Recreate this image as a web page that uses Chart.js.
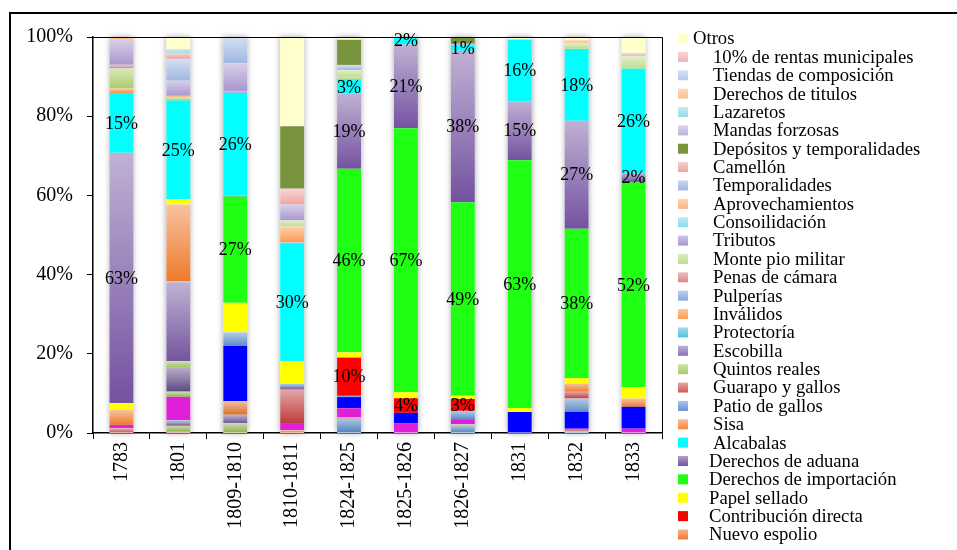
<!DOCTYPE html>
<html lang="es">
<head>
<meta charset="utf-8">
<title>Composición de los ingresos fiscales</title>
<script src="https://cdn.jsdelivr.net/npm/chart.js@4.4.1/dist/chart.umd.min.js"></script>
<style>
  html, body { margin: 0; padding: 0; background: #fff; }
  canvas { display: block; }
</style>
</head>
<body>
<canvas id="chart" width="957" height="550"></canvas>
<script>
// Periods on the horizontal axis
const periods = ['1783', '1801', '1809-1810', '1810-1811', '1824-1825', '1825-1826', '1826-1827', '1831', '1832', '1833'];

// Share of each revenue item per period (%), bottom of the stack first
const rubro1  = [0,    0,    0,    0,    3.6,  0,    1.9,  0,    0.4,  0];
const rubro2  = [1.2,  0.3,  0,    0,    0.3,  0,    0,    0,    0.4,  0];
const rubro3  = [0,    1.5,  2.5,  0,    0,    0,    0.3,  0,    0,    0];
const rubro4  = [0,    1.0,  2.1,  0,    0,    0,    0,    0,    0,    0];
const rubro5  = [0,    0.4,  0,    0,    0,    0,    0,    0,    0,    0];
const rubro6  = [0,    0,    3.4,  0.7,  0,    0,    0,    0,    0,    0];
const rubro8  = [0.85, 5.9,  0,    1.8,  2.3,  2.4,  1.3,  0,    0.3,  1.1];
const rubro9  = [0,    1.3,  0,    0,    0,    0,    0,    0,    0,    0];
const rubro10 = [0,    6.0,  0,    0,    0,    0,    0,    0,    0,    0];
const rubro12 = [0,    0,    13.9, 0,    2.8,  2.7,  0,    5.3,  4.2,  5.5];
const rubro13 = [0,    0,    3.5,  0,    0.3,  0,    2.1,  0,    3.4,  0];
const rubro14 = [0,    0,    0,    8.4,  0,    0,    0,    0,    1.7,  0];
const rubro15 = [0,    1.7,  0,    0,    0,    0,    0,    0,    0,    0];
const rubro16 = [0,    19.8, 0,    1.2,  0,    0,    0,    0,    0,    0];
const rubro17 = [0,    0.3,  0,    0.3,  0,    0,    0,    0,    0,    0];

const nuevoEspolio        = [3.8,  19.3, 0,    0,    0,    0,    0,    0,    2.1,  2.1];
const contribucionDirecta = [0,    0,    0,    0,    9.6,  3.7,  3.0,  0,    0,    0];
const papelSellado        = [1.7,  1.3,  7.4,  5.7,  1.3,  1.5,  0.8,  1.0,  1.3,  2.8];
const derechosImportacion = [0,    0,    26.8, 0,    46.0, 66.8, 48.9, 62.6, 37.7, 51.7];
const derechosAduana      = [63.1, 0,    0.3,  0,    18.8, 21.2, 38.2, 14.9, 27.3, 2.3];
const alcabalas           = [14.9, 24.8, 25.8, 29.5, 3.4,  1.9,  1.3,  15.6, 18.1, 26.3];
const sisa                = [1.3,  0,    0,    0,    0,    0,    0,    0,    0,    0];
const patioGallos         = [0,    0,    0,    0.3,  0,    0,    0,    0,    0,    0];
const guarapoGallos       = [0,    0,    0,    0,    0,    0,    0,    0,    0,    0];
const quintosReales       = [5.1,  0.8,  0,    0,    0.8,  0,    0,    0,    0,    0];
const escobilla           = [0.4,  0,    0,    0,    0,    0,    0,    0,    0,    0];
const protectoria         = [0,    0,    0,    0,    0,    0,    0,    0,    0,    0];
const invalidos           = [0,    0.4,  0,    4.0,  0,    0,    0,    0,    0,    0];
const pulperias           = [0,    0,    0.5,  0,    0,    0,    0.5,  0,    0,    0];
const penasCamara         = [0.5,  0,    0,    0,    0,    0,    0,    0,    0,    0];
const montePio            = [0,    0,    0,    1.5,  1.7,  0,    0,    0,    1.5,  3.2];
const tributos            = [6.5,  3.8,  7.0,  4.0,  0,    0,    0,    0,    0,    0];
const consolidacion       = [0,    0,    0,    0,    0,    0,    0,    0,    0,    0];
const aprovechamientos    = [0.5,  0,    0,    0,    0,    0,    0,    0,    0,    0];
const temporalidades      = [0,    5.5,  6.6,  0,    1.3,  0,    0,    0,    0,    0];
const camellon            = [0,    1.5,  0,    4.0,  0,    0,    0,    0,    0,    0];
const depositos           = [0,    0,    0,    15.7, 6.3,  0,    1.7,  0,    0,    0];
const mandasForzosas      = [0,    0,    0,    0,    0,    0,    0,    0,    0,    0];
const lazaretos           = [0,    1.0,  0,    0,    0,    0,    0,    0,    0,    0];
const derechosTitulos     = [0,    0,    0,    0,    0,    0,    0,    0,    0.8,  0];
const tiendasComposicion  = [0,    0,    0,    0,    0,    0,    0,    0,    0,    0];
const rentasMunicipales   = [0,    0,    0,    0,    0,    0,    0,    0,    0,    0.8];
const otros               = [0,    3.0,  0,    22.4, 0.7,  0,    0,    0.6,  0.7,  4.0];

// Stack order (bottom to top) with fill colours; "flat" = solid fill, "tagged" = value printed on the bar
const stack = [
  { label: 'Rubro 1',  values: rubro1,  color: '#4F81BD' },
  { label: 'Rubro 2',  values: rubro2,  color: '#C0504D' },
  { label: 'Rubro 3',  values: rubro3,  color: '#8DB04E' },
  { label: 'Rubro 4',  values: rubro4,  color: '#6F5896' },
  { label: 'Rubro 5',  values: rubro5,  color: '#4BACC6' },
  { label: 'Rubro 6',  values: rubro6,  color: '#D9702C' },
  { label: 'Rubro 8',  values: rubro8,  color: '#E11FD9', flat: true },
  { label: 'Rubro 9',  values: rubro9,  color: '#92B650' },
  { label: 'Rubro 10', values: rubro10, color: '#5E4882' },
  { label: 'Rubro 12', values: rubro12, color: '#0000FF', flat: true },
  { label: 'Rubro 13', values: rubro13, color: '#5F8CC8' },
  { label: 'Rubro 14', values: rubro14, color: '#BE3C3C' },
  { label: 'Rubro 15', values: rubro15, color: '#9BC05A' },
  { label: 'Rubro 16', values: rubro16, color: '#74549E' },
  { label: 'Rubro 17', values: rubro17, color: '#4BC0DC' },
  { label: 'Nuevo espolio',              values: nuevoEspolio,        color: '#EE7A2C', legend: true },
  { label: 'Contribución directa',       values: contribucionDirecta, color: '#FF0000', flat: true, legend: true, tagged: true },
  { label: 'Papel sellado',              values: papelSellado,        color: '#FFFF00', flat: true, legend: true },
  { label: 'Derechos de importación',    values: derechosImportacion, color: '#1EFF14', flat: true, legend: true, tagged: true },
  { label: 'Derechos de aduana',         values: derechosAduana,      color: '#7352A0', legend: true, tagged: true },
  { label: 'Alcabalas',                  values: alcabalas,           color: '#00FFFF', flat: true, legend: true, tagged: true },
  { label: 'Sisa',                       values: sisa,                color: '#F7883A', legend: true },
  { label: 'Patio de gallos',            values: patioGallos,         color: '#6893D2', legend: true },
  { label: 'Guarapo y gallos',           values: guarapoGallos,       color: '#D05C5C', legend: true },
  { label: 'Quintos reales',             values: quintosReales,       color: '#A8CC6C', legend: true },
  { label: 'Escobilla',                  values: escobilla,           color: '#8872B8', legend: true },
  { label: 'Protectoría',                values: protectoria,         color: '#4EC2DE', legend: true },
  { label: 'Inválidos',                  values: invalidos,           color: '#FA9A50', legend: true },
  { label: 'Pulperías',                  values: pulperias,           color: '#88A8DE', legend: true },
  { label: 'Penas de cámara',            values: penasCamara,         color: '#DC8888', legend: true },
  { label: 'Monte pio militar',          values: montePio,            color: '#BEDC8E', legend: true },
  { label: 'Tributos',                   values: tributos,            color: '#A896CE', legend: true },
  { label: 'Consoilidación',             values: consolidacion,       color: '#8ADCEE', legend: true },
  { label: 'Aprovechamientos',           values: aprovechamientos,    color: '#FDB47E', legend: true },
  { label: 'Temporalidades',             values: temporalidades,      color: '#9FB8E2', legend: true },
  { label: 'Camellón',                   values: camellon,            color: '#EEA4A4', legend: true },
  { label: 'Depósitos y temporalidades', values: depositos,           color: '#77933C', flat: true, legend: true },
  { label: 'Mandas forzosas',            values: mandasForzosas,      color: '#BFB0DC', legend: true },
  { label: 'Lazaretos',                  values: lazaretos,           color: '#9ADAEA', legend: true },
  { label: 'Derechos de titulos',        values: derechosTitulos,     color: '#FABE94', legend: true },
  { label: 'Tiendas de composición',     values: tiendasComposicion,  color: '#B4CAEC', legend: true },
  { label: '10% de rentas municipales',  values: rentasMunicipales,   color: '#EEB4B4', legend: true },
  { label: 'Otros',                      values: otros,               color: '#FFFFCC', flat: true, legend: true }
];

// 100 % stacking: each period scaled to its own total
const totals = periods.map((_, i) => stack.reduce((s, d) => s + d.values[i], 0));
const shares = stack.map(d => d.values.map((v, i) => v / totals[i] * 100));

const SERIF = '"Liberation Serif", "Times New Roman", serif';

function tint(hex, t) {
  const n = parseInt(hex.slice(1), 16);
  const r = n >> 16, g = (n >> 8) & 255, b = n & 255;
  const m = c => Math.round(c + (255 - c) * t);
  return `rgb(${m(r)},${m(g)},${m(b)})`;
}

// Vertical light-to-dark gradient for each bar segment
function segmentFill(c, k) {
  const d = stack[k];
  if (d.flat) return d.color;
  const chart = c.chart;
  const y = chart.scales && chart.scales.y;
  const i = c.dataIndex;
  if (!y || i === undefined) return d.color;
  let start = 0;
  for (let j = 0; j < k; j++) start += shares[j][i];
  const end = start + shares[k][i];
  const yTop = y.getPixelForValue(end);
  const yBot = y.getPixelForValue(start);
  if (!isFinite(yTop) || !isFinite(yBot) || yBot - yTop < 0.5) return d.color;
  const g = chart.ctx.createLinearGradient(0, yTop, 0, yBot);
  g.addColorStop(0, tint(d.color, 0.55));
  g.addColorStop(1, d.color);
  return g;
}

// Soft shadow behind each column
const columnShadow = {
  id: 'columnShadow',
  beforeDatasetsDraw(chart) {
    const meta = chart.getDatasetMeta(0);
    const y = chart.scales.y;
    const top = y.getPixelForValue(100), bottom = y.getPixelForValue(0);
    const ctx = chart.ctx;
    ctx.save();
    ctx.shadowColor = 'rgba(0,0,0,0.35)';
    ctx.shadowBlur = 6;
    ctx.fillStyle = '#fff';
    meta.data.forEach(bar => {
      ctx.fillRect(bar.x - bar.width / 2, top, bar.width, bottom - top);
    });
    ctx.restore();
  }
};

// Percentages printed on the main revenue items
const valueLabels = {
  id: 'valueLabels',
  afterDatasetsDraw(chart) {
    const ctx = chart.ctx;
    ctx.save();
    ctx.font = `18px ${SERIF}`;
    ctx.fillStyle = '#000';
    ctx.textAlign = 'center';
    ctx.textBaseline = 'middle';
    stack.forEach((d, k) => {
      if (!d.tagged) return;
      chart.getDatasetMeta(k).data.forEach((bar, i) => {
        const pct = Math.round(shares[k][i]);
        if (pct < 1) return;
        ctx.fillText(pct + '%', bar.x, (bar.y + bar.base) / 2 + 1);
      });
    });
    ctx.restore();
  }
};

// Plot-area frame, outer frame and legend
const frameAndLegend = {
  id: 'frameAndLegend',
  afterDraw(chart) {
    const ctx = chart.ctx;
    const a = chart.chartArea;
    ctx.save();
    ctx.strokeStyle = '#000';
    ctx.lineWidth = 1;
    ctx.beginPath();
    ctx.moveTo(a.left, a.top + 0.5);
    ctx.lineTo(a.right + 0.5, a.top + 0.5);
    ctx.lineTo(a.right + 0.5, a.bottom);
    ctx.stroke();

    ctx.lineWidth = 2;
    ctx.strokeRect(10, 13, 1200, 800);

    const entries = stack.filter(d => d.legend).reverse();
    ctx.font = `18.67px ${SERIF}`;
    ctx.textBaseline = 'middle';
    ctx.textAlign = 'left';
    entries.forEach((d, i) => {
      const cy = 38.5 + i * 18.37;
      const g = ctx.createLinearGradient(0, cy - 5, 0, cy + 5);
      if (d.flat) {
        g.addColorStop(0, d.color); g.addColorStop(1, d.color);
      } else {
        g.addColorStop(0, tint(d.color, 0.45)); g.addColorStop(1, d.color);
      }
      ctx.fillStyle = g;
      ctx.fillRect(678, cy - 5, 10, 10);
      ctx.fillStyle = '#000';
      const x = i === 0 ? 693 : (i >= 23 ? 709 : 713);
      ctx.fillText(d.label, x, cy + 1);
    });
    ctx.restore();
  }
};

new Chart(document.getElementById('chart'), {
  type: 'bar',
  data: {
    labels: periods,
    datasets: stack.map((d, k) => ({
      label: d.label,
      data: shares[k],
      backgroundColor: c => segmentFill(c, k),
      borderWidth: 0,
      categoryPercentage: 1,
      barPercentage: 0.42
    }))
  },
  options: {
    responsive: false,
    animation: false,
    layout: { padding: { left: 0, top: 37, right: 295, bottom: 0 } },
    plugins: {
      legend: { display: false },
      tooltip: { enabled: false }
    },
    scales: {
      x: {
        stacked: true,
        afterFit: s => { s.height = 117; },
        grid: { drawOnChartArea: false, drawTicks: true, tickLength: 6, color: '#000', lineWidth: 1 },
        border: { display: true, color: '#000', width: 1.5 },
        ticks: {
          color: '#000',
          font: { family: SERIF, size: 20 },
          minRotation: 90,
          maxRotation: 90,
          padding: 3,
          autoSkip: false
        }
      },
      y: {
        stacked: true,
        min: 0,
        max: 100,
        afterFit: s => { s.width = 93; },
        grid: { drawOnChartArea: false, drawTicks: true, tickLength: 6, color: '#000', lineWidth: 1 },
        border: { display: true, color: '#000', width: 1.5 },
        ticks: {
          stepSize: 20,
          color: '#000',
          font: { family: SERIF, size: 20 },
          padding: 14,
          callback: v => v + '%'
        }
      }
    }
  },
  plugins: [columnShadow, valueLabels, frameAndLegend]
});
</script>
</body>
</html>
